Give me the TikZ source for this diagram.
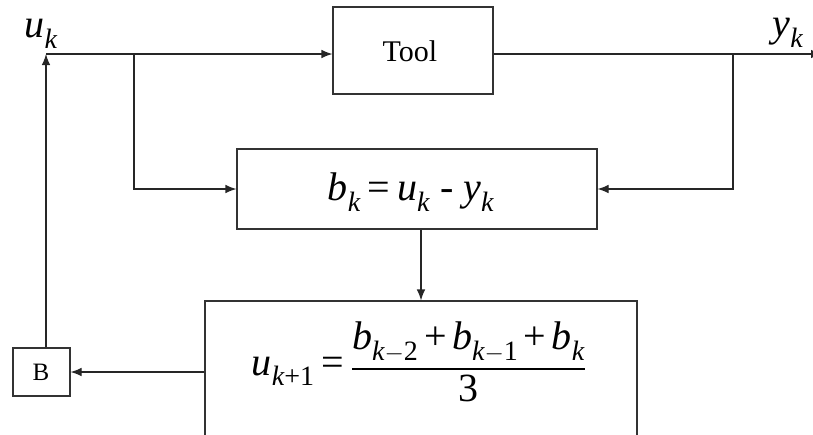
\documentclass[tikz,border=0pt]{standalone}
\usepackage{amsmath}
\usepackage{fontspec}
\setmainfont{Liberation Serif}
\usetikzlibrary{arrows.meta}
\newcommand{\V}[1]{\text{\itshape #1}}
\newcommand{\R}[1]{\text{#1}}
\newcommand{\Pl}{\mathbin{\R{+}}}
\newcommand{\Eq}{\mathrel{\R{=}}}
\tikzset{
  blk/.style={draw=black!80, line width=1.1pt, inner sep=0pt, fill=white},
  conn/.style={line width=1.1pt, draw=black!85},
  arr/.style={conn, -{Latex[length=11pt,width=8.5pt]}},
  lbl/.style={inner sep=0pt, font=\fontsize{40}{44}\selectfont},
}
\begin{document}
\begin{tikzpicture}[x=1pt,y=-1pt]
\useasboundingbox (0,0) rectangle (813,434);
\clip (0,0) rectangle (813,434);
% blocks
\node[blk, minimum width=160pt, minimum height=87pt] (tool) at (413,50.5) {};
\node[inner sep=0pt, font=\fontsize{30}{33}\selectfont] (tooltxt) at (410,51) {Tool};
\node[blk, minimum width=360pt, minimum height=80pt] (mid) at (417,189) {};
\node[lbl] (midtxt) at (411,192) {$\V{b}_{\V{k}} \Eq \V{u}_{\V{k}} \mbox{ - } \V{y}_{\V{k}}$};
\node[blk, minimum width=432pt, minimum height=170pt] (low) at (421,386) {};
\node[lbl] (lowtxt) at (419,362) {$\V{u}_{\V{k}\Pl\R{1}} \Eq \genfrac{}{}{1.8pt}{0}{\V{b}_{\V{k}\R{$-$2}} \Pl \V{b}_{\V{k}\R{$-$1}} \Pl \V{b}_{\V{k}}}{\R{3}}$};
\node[blk, minimum width=57pt, minimum height=48pt] (B) at (41.5,372) {};
\node[inner sep=0pt, font=\fontsize{25}{28}\selectfont] (Btxt) at (41,372) {B};
% labels
\node[lbl] (uk) at (41,34) {$\V{u}_{\V{k}}$};
\node[lbl] (yk) at (788,33) {$\V{y}_{\V{k}}$};
% junction coordinates
\coordinate (jin) at (46,54);
\coordinate (jl) at (134,54);
\coordinate (jr) at (733,54);
\coordinate (out) at (822,54);
% connectors
\draw[arr] (jin) -- (jin -| tool.west);
\draw[arr] (tool.east |- jin) -- (out);
\draw[arr] (jl) |- (mid.west);
\draw[arr] (jr) |- (mid.east);
\draw[arr] (mid.south -| 421,0) -- (low.north -| 421,0);
\draw[arr] (low.west |- B) -- (B.east);
\draw[arr] (B.north -| jin) -- (jin);
\end{tikzpicture}
\end{document}
